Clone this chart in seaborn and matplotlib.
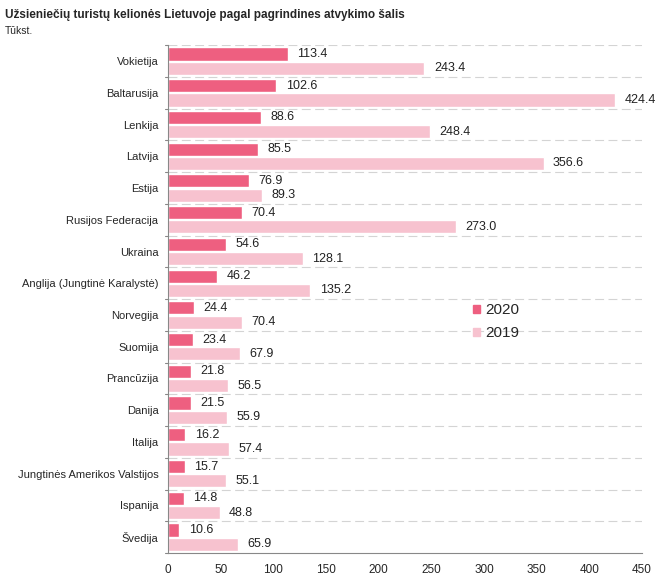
import matplotlib
matplotlib.use("Agg")
import matplotlib.pyplot as plt
import seaborn as sns
import pandas as pd
from matplotlib.patches import Patch

countries = ["Vokietija", "Baltarusija", "Lenkija", "Latvija", "Estija",
             "Rusijos Federacija", "Ukraina", "Anglija (Jungtinė Karalystė)",
             "Norvegija", "Suomija", "Prancūzija", "Danija", "Italija",
             "Jungtinės Amerikos Valstijos", "Ispanija", "Švedija"]
v2020 = [113.4, 102.6, 88.6, 85.5, 76.9, 70.4, 54.6, 46.2, 24.4, 23.4, 21.8, 21.5, 16.2, 15.7, 14.8, 10.6]
v2019 = [243.4, 424.4, 248.4, 356.6, 89.3, 273.0, 128.1, 135.2, 70.4, 67.9, 56.5, 55.9, 57.4, 55.1, 48.8, 65.9]
years = ["2020", "2019"]
xticks = [0, 50, 100, 150, 200, 250, 300, 350, 400, 450]

df = pd.DataFrame({
    "country": countries * 2,
    "value": v2020 + v2019,
    "year": [years[0]] * len(countries) + [years[1]] * len(countries),
})

c2020 = "#EE5F80"
c2019 = "#F7C2CF"

sns.set_style("white")
plt.rcParams['font.family'] = ['Liberation Sans', 'DejaVu Sans']

fig = plt.figure(figsize=(6.7, 5.85), dpi=100)
ax = fig.add_axes([0.251, 0.0547, 0.707, 0.868])

sns.barplot(data=df, y="country", x="value", hue="year", orient="h",
            palette={"2020": c2020, "2019": c2019}, width=0.9, gap=0.08,
            order=countries, hue_order=years, ax=ax, legend=False, saturation=1)

for cont in ax.containers:
    for bar in cont:
        w = bar.get_width()
        y = bar.get_y() + bar.get_height() / 2
        ax.text(w + 9, y, f"{w:.1f}", va="center", ha="left", fontsize=9, color="#222222")

ax.set_xlim(0, 450)
ax.set_xticks(xticks)
ax.set_xticklabels([str(t) for t in xticks], fontsize=8.5)
ax.set_ylim(len(countries) - 0.5, -0.5)
ax.set_xlabel("")
ax.set_ylabel("")
ax.tick_params(axis="y", length=0, labelsize=8, pad=7)
ax.tick_params(axis="x", length=4, color="#888888", direction="out", pad=4)

for i in range(len(countries) + 1):
    yb = i - 0.5
    if i < len(countries):
        ax.axhline(yb, color="#D4D4D4", lw=0.8, ls=(0, (8, 4)), zorder=0)
    ax.plot([-3, 0], [yb, yb], color="#888888", lw=0.8, clip_on=False)

for s in ["top", "right"]:
    ax.spines[s].set_visible(False)
ax.spines["left"].set_color("#888888")
ax.spines["bottom"].set_color("#888888")

handles = [Patch(color=c2020, label="2020"), Patch(color=c2019, label="2019")]
fig.legend(handles=handles, loc="upper left", bbox_to_anchor=(0.685, 0.505),
           frameon=False, fontsize=11, handlelength=0.5, handleheight=0.5,
           handletextpad=0.3, labelspacing=0.6)

fig.text(0.007, 0.985, "Užsieniečių turistų kelionės Lietuvoje pagal pagrindines atvykimo šalis",
         fontsize=8.5, fontweight="bold", va="top", ha="left")
fig.text(0.007, 0.955, "Tūkst.", fontsize=7.5, va="top", ha="left")

fig.savefig("out.png", dpi=100)
